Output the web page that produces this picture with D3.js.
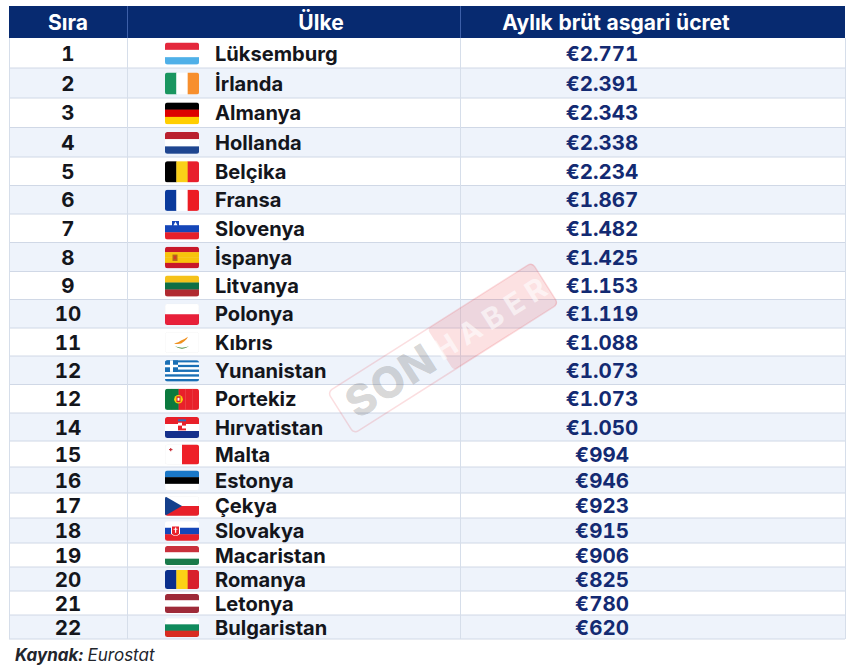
<!DOCTYPE html>
<html><head><meta charset="utf-8">
<script src="https://cdn.jsdelivr.net/npm/d3@7"></script>
<style>html,body{margin:0;padding:0;background:#fff}svg{display:block}text{font-family:Inter,"Noto Sans",sans-serif;font-variant-numeric:tabular-nums}</style>
</head><body><svg id="c" width="860" height="670"></svg>
<script>
const headers = ["Sıra", "Ülke", "Aylık brüt asgari ücret"];
const ranks = [1,2,3,4,5,6,7,8,9,10,11,12,12,14,15,16,17,18,19,20,21,22];
const countries = ["Lüksemburg","İrlanda","Almanya","Hollanda","Belçika","Fransa","Slovenya","İspanya","Litvanya","Polonya","Kıbrıs","Yunanistan","Portekiz","Hırvatistan","Malta","Estonya","Çekya","Slovakya","Macaristan","Romanya","Letonya","Bulgaristan"];
const wages = [2771,2391,2343,2338,2234,1867,1482,1425,1153,1119,1088,1073,1073,1050,994,946,923,915,906,825,780,620];
const wageLabels = ["€2.771","€2.391","€2.343","€2.338","€2.234","€1.867","€1.482","€1.425","€1.153","€1.119","€1.088","€1.073","€1.073","€1.050","€994","€946","€923","€915","€906","€825","€780","€620"];
const source = ["Kaynak:", " Eurostat"];
const watermark = ["SON", "HABER"];
const flagStripes = [
 ["h","#e4283c","#fff","#4fb0e8"],["v","#1a9660","#fff","#f78f2e"],["h","#000","#dd0000","#ffce00"],["h","#b9202f","#fff","#1f4690"],
 ["v","#000","#fad018","#e81f2c"],["v","#0a3a9c","#fff","#ec1c24"],["h","#fff","#1546b8","#e6202a"],["h","#c8182a","#f8c40c","#f8c40c","#c8182a"],
 ["h","#f5c21a","#0f6f45","#b02a30"],["h","#fff","#e8203a"],["h","#fff"],["h","#1a6fb5","#fff","#1a6fb5","#fff","#1a6fb5","#fff","#1a6fb5","#fff","#1a6fb5"],
 ["v","#0b7a3e","#0b7a3e","#e8202a","#e8202a","#e8202a"],["h","#e8202a","#fff","#15308c"],["v","#fff","#ee2028"],["h","#1a78c8","#000","#fff"],
 ["h","#fff","#e8202a"],["h","#fff","#1546b8","#e8202a"],["h","#c9303c","#fff","#1a7a4a"],["v","#0a2f8c","#fcd116","#d8202c"],["h","#9e2a38","#fff","#9e2a38"],["h","#fff","#0f8a5c","#d92c20"]
];

// layout
const rowEdges = [38,68,98,127.5,157,185.5,214,242.5,271.5,299.5,328,356,384.5,413,441,467,493,518,543,567,591,615,639];
const tableX = [9,127,460,845], headerTop = 6;
const navy = "#072a70", valueColor = "#132a72";
const rowIdx = ranks.map((_,i)=>i);
const yTop = d3.scaleOrdinal(rowIdx, rowEdges.slice(0,-1));
const yBot = d3.scaleOrdinal(rowIdx, rowEdges.slice(1));
const yMid = i => (yTop(i)+yBot(i))/2;
const flagH = d3.scaleLinear([24,30],[19,22]);
const svg = d3.select("#c");
const defs = svg.append("defs");

// header
svg.append("rect").attr("x",tableX[0]).attr("y",headerTop).attr("width",tableX[3]-tableX[0]).attr("height",rowEdges[0]-headerTop).attr("fill",navy);
svg.append("line").attr("x1",tableX[1]+.5).attr("x2",tableX[1]+.5).attr("y1",headerTop).attr("y2",rowEdges[0]).attr("stroke","#3d5fa8");
svg.append("line").attr("x1",tableX[2]+.5).attr("x2",tableX[2]+.5).attr("y1",headerTop).attr("y2",rowEdges[0]).attr("stroke","#3d5fa8");
const headCx = [68,321,616];
svg.selectAll(".h").data(headers).join("text").attr("x",(d,i)=>headCx[i]).attr("y",29.5).attr("text-anchor","middle")
 .attr("fill","#fff").attr("font-size",21).attr("font-weight",700).text(d=>d);

// rows
const rows = svg.append("g");
rows.selectAll("rect").data(rowIdx).join("rect").attr("x",tableX[0]).attr("width",tableX[3]-tableX[0])
 .attr("y",yTop).attr("height",i=>yBot(i)-yTop(i)).attr("fill",i=>i%2?"#eef3fb":"#fff");
rows.selectAll("line.r").data(rowIdx).join("line").attr("class","r").attr("x1",tableX[0]).attr("x2",tableX[3])
 .attr("y1",i=>yBot(i)).attr("y2",i=>yBot(i)).attr("stroke","#d0d8e6");
[0,1,2,3].forEach(k=>svg.append("line").attr("x1",tableX[k]+.5).attr("x2",tableX[k]+.5).attr("y1",rowEdges[0]).attr("y2",639).attr("stroke","#d6deea"));

// watermark
const wm = svg.append("g").attr("transform","translate(443,348) rotate(-32.4)");
wm.append("rect").attr("x",-121).attr("y",-24.5).attr("width",242).attr("height",49).attr("rx",5).attr("fill","none").attr("stroke","#e8343c").attr("stroke-opacity",.16).attr("stroke-width",1.5);
wm.append("rect").attr("x",-3).attr("y",-24.5).attr("width",124).attr("height",49).attr("rx",4).attr("fill","#e8343c").attr("fill-opacity",.15);
wm.append("text").attr("x",-62).attr("y",15).attr("text-anchor","middle").attr("font-size",43).attr("font-weight",800).attr("fill","#555").attr("fill-opacity",.24).attr("letter-spacing",1).text(watermark[0]);
wm.append("text").attr("x",59).attr("y",11).attr("text-anchor","middle").attr("font-size",29).attr("font-weight",700).attr("fill","#fff").attr("fill-opacity",.6).attr("letter-spacing",7).text(watermark[1]);

// text columns
const ty = i => yMid(i)+7.5;
svg.append("g").selectAll("text").data(rowIdx).join("text").attr("x",68).attr("y",ty).attr("text-anchor","middle")
 .attr("font-size",20.5).attr("font-weight",700).attr("fill","#14161c").text(i=>ranks[i]);
svg.append("g").selectAll("text").data(rowIdx).join("text").attr("x",215).attr("y",ty)
 .attr("font-size",20.1).attr("font-weight",650).attr("fill","#14161c").text(i=>countries[i]);
svg.append("g").selectAll("text").data(rowIdx).join("text").attr("x",602).attr("y",ty).attr("text-anchor","middle")
 .attr("font-size",20.5).attr("font-weight",700).attr("fill",valueColor).text(i=>wageLabels[i]);

// flags
const flagX = 165, flagW = 34;
rowIdx.forEach(i=>{
  const h = flagH(yBot(i)-yTop(i)), y0 = yMid(i)-h/2+.5;
  const id = "f"+i;
  defs.append("clipPath").attr("id",id).append("rect").attr("width",flagW).attr("height",h).attr("rx",2.5);
  const g = svg.append("g").attr("transform",`translate(${flagX},${y0})`).attr("clip-path",`url(#${id})`);
  const [dir,...cols] = flagStripes[i];
  const band = d3.scaleBand(d3.range(cols.length),[0,dir==="h"?h:flagW]);
  g.selectAll("rect").data(cols).join("rect")
   .attr("x",(d,k)=>dir==="v"?band(k):0).attr("y",(d,k)=>dir==="h"?band(k):0)
   .attr("width",dir==="v"?band.bandwidth()+.3:flagW).attr("height",dir==="h"?band.bandwidth()+.3:h).attr("fill",d=>d);
  const name = countries[i], sx=flagW/34, sy=h/22;
  const R=(x,y,w,he,f)=>g.append("rect").attr("x",x*sx).attr("y",y*sy).attr("width",w*sx).attr("height",he*sy).attr("fill",f);
  const P=(d,f)=>g.append("path").attr("d",d).attr("fill",f).attr("transform",`scale(${sx},${sy})`);
  if(name==="Slovenya"){ P("M7 3h7v6q-3.500 4-7 0z","#1546b8"); P("M10.500 3.500l2 4h-4z","#fff"); }
  if(name==="İspanya"){ R(7.500,8,5,6.500,"#b5651d"); R(9,9.500,2,3,"#d8362a"); }
  if(name==="Kıbrıs"){ P("M9 12q5-1 7-3 3-1 7-4-1 3-4 5-4 4-10 2z","#f0901e"); P("M10 15q7 5 14 0-7 3-14 0z","#4a8a3a"); }
  if(name==="Yunanistan"){ R(0,0,13,12.200,"#1a6fb5"); R(5,0,3,12.200,"#fff"); R(0,4.800,13,2.600,"#fff"); }
  if(name==="Portekiz"){ g.append("circle").attr("cx",13.500*sx).attr("cy",11*sy).attr("r",4.500*sy).attr("fill","#f6d10a"); R(11.500,8,4,6,"#d8202a"); R(12.500,9.500,2,3,"#fff"); }
  if(name==="Hırvatistan"){ R(13,4,8,10,"#e8202a"); R(13,6,4,3,"#fff"); R(17,9,4,3,"#fff"); R(13,2.500,8,2,"#2a6fc0"); }
  if(name==="Malta"){ R(4,5,3.500,1.200,"#c8303a"); R(5.100,3.900,1.200,3.500,"#c8303a"); }
  if(name==="Çekya"){ P("M0 0L17 11L0 22z","#15408c"); }
  if(name==="Slovakya"){ P("M6 5h9v9q-4.500 5-9 0z","#fff"); P("M7 6h7v8q-3.500 4-7 0z","#e8202a"); R(10,7,1.200,6,"#fff"); R(8.500,8.500,4,1,"#fff"); }
  if(["Kıbrıs","Estonya","Polonya","Malta","Bulgaristan","Çekya"].includes(name))
    g.append("rect").attr("width",flagW).attr("height",h).attr("rx",2.500).attr("fill","none").attr("stroke","#000").attr("stroke-opacity",.04);
});

// source
const s = svg.append("text").attr("x",15).attr("y",661).attr("font-size",17).attr("font-style","italic").attr("fill","#22252c");
s.append("tspan").attr("font-weight",700).text(source[0]);
s.append("tspan").attr("font-weight",400).text(source[1]);
</script></body></html>
